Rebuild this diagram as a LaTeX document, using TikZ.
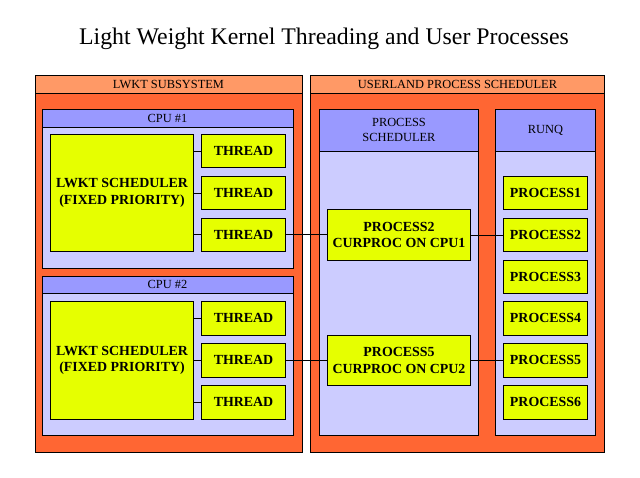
\documentclass[tikz,border=0pt]{standalone}
\usepackage{fontspec}
\setmainfont{Liberation Serif}
\definecolor{panelbody}{RGB}{255,102,51}
\definecolor{panelhead}{RGB}{255,153,102}
\definecolor{colbody}{RGB}{204,204,255}
\definecolor{colhead}{RGB}{153,153,255}
\definecolor{itemfill}{RGB}{230,255,0}
\tikzset{
  frame/.style={draw=black, line width=0.8pt, inner sep=0pt, outer sep=0pt},
  panel/.style={frame, fill=panelbody},
  panelhdr/.style={frame, fill=panelhead, font=\fontsize{12.4}{14}\selectfont},
  column/.style={frame, fill=colbody},
  columnhdr/.style={frame, fill=colhead, font=\fontsize{12.4}{15.6}\selectfont, align=center},
  item/.style={frame, fill=itemfill, font=\bfseries\fontsize{13.9}{16.5}\selectfont, align=center},
  link/.style={draw=black, line width=0.8pt},
}
% \placebox{name}{style}{x1}{y1}{x2}{y2}{text}: a node spanning two corners
\newcommand\placebox[7]{%
  \node[#2, minimum width={#5-#3}, minimum height={#6-#4}]
    (#1) at ({(#3+#5)/2},{(#4+#6)/2}) {#7};}
\begin{document}
\begin{tikzpicture}[x=1pt, y=-1pt]
\useasboundingbox[fill=white] (0,0) rectangle (640,477);

\node[font=\fontsize{23.8}{28}\selectfont] (title) at (324,39)
  {Light Weight Kernel Threading and User Processes};

% kernel side
\placebox{lwkt}{panel}{35}{75}{302}{452}{}
\placebox{lwkthdr}{panelhdr}{35}{75}{302}{93}{LWKT SUBSYSTEM}

\placebox{cpua}{column}{42}{109}{293}{268}{}
\placebox{cpuahdr}{columnhdr}{42}{109}{293}{127}{CPU \#1}
\placebox{scha}{item}{50.5}{134.5}{193.5}{251}{LWKT SCHEDULER\\(FIXED PRIORITY)}
\placebox{tha1}{item}{201.5}{134.5}{285.5}{167.5}{THREAD}
\placebox{tha2}{item}{201.5}{176.5}{285.5}{209.5}{THREAD}
\placebox{tha3}{item}{201.5}{218.3}{285.5}{251}{THREAD}

\placebox{cpub}{column}{42}{276}{293}{435}{}
\placebox{cpubhdr}{columnhdr}{42}{276}{293}{293.5}{CPU \#2}
\placebox{schb}{item}{50.5}{301.7}{193.5}{419}{LWKT SCHEDULER\\(FIXED PRIORITY)}
\placebox{thb1}{item}{201.5}{301.7}{285.5}{335}{THREAD}
\placebox{thb2}{item}{201.5}{343.5}{285.5}{377.3}{THREAD}
\placebox{thb3}{item}{201.5}{385.5}{285.5}{419}{THREAD}

% userland side
\placebox{user}{panel}{310.5}{75}{604.5}{452}{}
\placebox{userhdr}{panelhdr}{310.5}{75}{604.5}{93}{USERLAND PROCESS SCHEDULER}

\placebox{psch}{column}{319.5}{109}{478.5}{435}{}
\placebox{pschhdr}{columnhdr}{319.5}{109}{478.5}{151}{PROCESS\\SCHEDULER}
\placebox{cura}{item}{327.5}{209.5}{470.5}{260.5}{PROCESS2\\CURPROC ON CPU1}
\placebox{curb}{item}{327.5}{335.5}{470.5}{385.5}{PROCESS5\\CURPROC ON CPU2}

\placebox{runq}{column}{495.5}{109}{595.5}{435}{}
\placebox{runqhdr}{columnhdr}{495.5}{109}{595.5}{151}{RUNQ}
\placebox{p1}{item}{503.5}{176.5}{587.5}{209.5}{PROCESS1}
\placebox{p2}{item}{503.5}{218.3}{587.5}{251.5}{PROCESS2}
\placebox{p3}{item}{503.5}{260}{587.5}{293.3}{PROCESS3}
\placebox{p4}{item}{503.5}{301.7}{587.5}{335}{PROCESS4}
\placebox{p5}{item}{503.5}{343.5}{587.5}{377.3}{PROCESS5}
\placebox{p6}{item}{503.5}{385.5}{587.5}{419}{PROCESS6}

% scheduler to thread links
\foreach \s/\t in {scha/tha1, scha/tha2, scha/tha3, schb/thb1, schb/thb2, schb/thb3}
  \draw[link] (\t.west -| \s.east) -- (\t.west);

% running threads to current processes and run queue
\draw[link] (tha3.east) -- (tha3.east -| cura.west);
\draw[link] (cura.east) -- (cura.east -| p2.west);
\draw[link] (thb2.east) -- (thb2.east -| curb.west);
\draw[link] (curb.east) -- (curb.east -| p5.west);
\end{tikzpicture}
\end{document}
